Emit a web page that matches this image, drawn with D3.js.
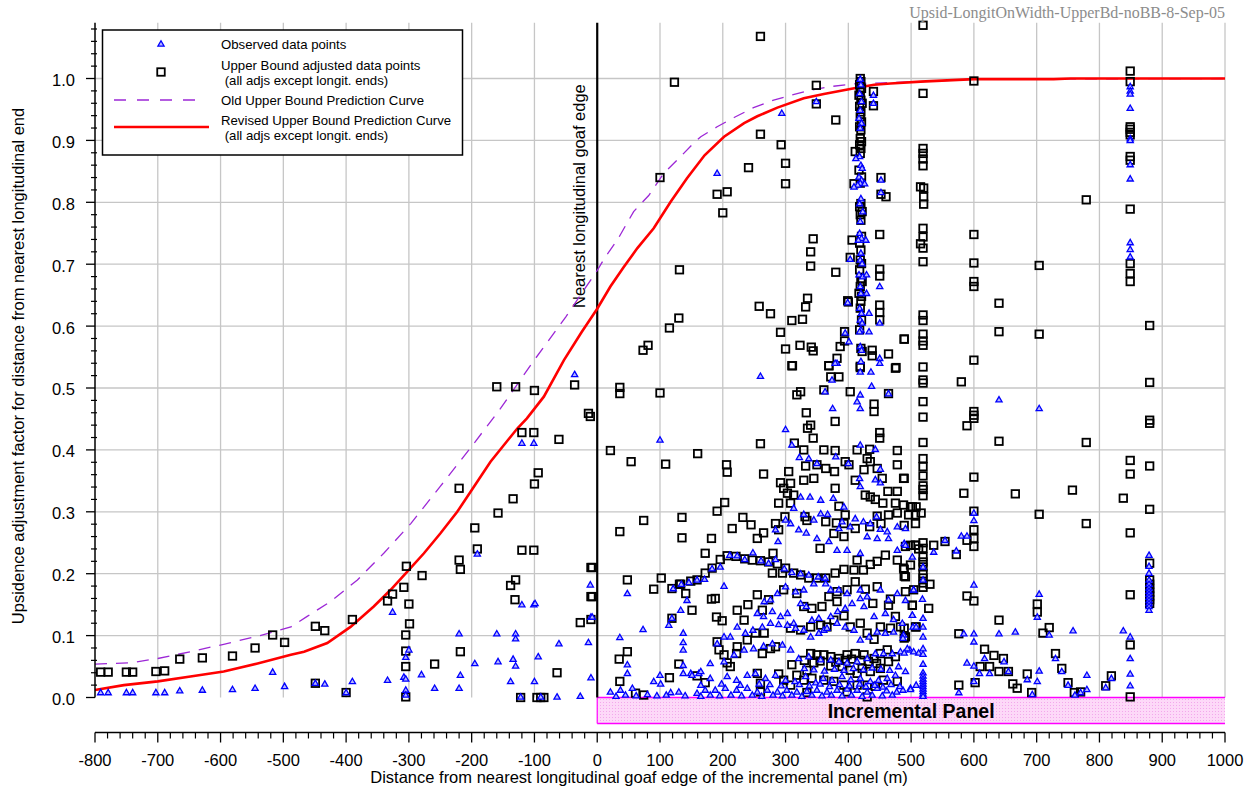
<!DOCTYPE html>
<html>
<head>
<meta charset="utf-8">
<script src="https://cdn.jsdelivr.net/npm/d3@7/dist/d3.min.js"></script>
<style>
  html, body { margin: 0; padding: 0; background: #ffffff; }
  svg { display: block; }
</style>
</head>
<body>
<svg id="chart" width="1258" height="791" font-family="'Liberation Sans', Arial, sans-serif"></svg>
<script>
// ---- axis ticks ----
const xMajorTicks = [-800,-700,-600,-500,-400,-300,-200,-100,0,100,200,300,400,500,600,700,800,900,1000];
const yMajorTicks = [0.0,0.1,0.2,0.3,0.4,0.5,0.6,0.7,0.8,0.9,1.0];
const xGridValues = [-700,-600,-500,-400,-300,-200,-100,100,200,300,400,500,600,700,800,900,1000];
const yGridValues = [0.1,0.2,0.3,0.4,0.5,0.6,0.7,0.8,0.9,1.0];

// ---- prediction curves ----
const revisedCurveX = [-800,-754,-700,-648,-595,-541,-488,-467,-430,-393,-356,-329,-300,-276,-250,-223,-202,-170,-127,-112,-85,-53,-25,0,21,42,64,90,117,143,171,202,234,255,287,329,361,403,441,467,515,600,727,754,1000];
const revisedCurveY = [0.012,0.020,0.026,0.034,0.042,0.055,0.069,0.074,0.088,0.114,0.147,0.174,0.206,0.233,0.265,0.300,0.332,0.381,0.435,0.451,0.486,0.545,0.590,0.628,0.664,0.695,0.726,0.758,0.801,0.839,0.876,0.906,0.928,0.939,0.953,0.968,0.975,0.983,0.990,0.992,0.995,0.999,0.999,1.0,1.0];
const oldCurveX = [-800,-743,-700,-648,-595,-541,-488,-462,-425,-382,-340,-297,-250,-202,-154,-104,-50,0,13,32,58,82,106,130,154,165,191,218,249,281,308,340,372,414,456,515,600,1000];
const oldCurveY = [0.054,0.056,0.063,0.074,0.086,0.099,0.114,0.131,0.155,0.190,0.233,0.281,0.341,0.403,0.467,0.540,0.615,0.690,0.712,0.739,0.785,0.811,0.847,0.871,0.896,0.906,0.922,0.937,0.953,0.965,0.973,0.981,0.987,0.992,0.993,0.995,0.999,1.0];

// ---- observed data points [distance m, factor] ----
const observedPoints = [
[-791,0.008],[-779,0.008],[-750,0.008],[-740,0.008],[-703,0.008],[-689,0.008],[-665,0.011],[-629,0.012],[-581,0.013],[-545,0.015],[-517,0.041],[-498,0.018],[-449,0.023],[-434,0.022],[-390,0.026],[-400,0.008],[-326,0.138],[-334,0.028],[-308,0.033],[-305,0.030],[-300,0.077],[-305,0.065],[-305,0.012],[-305,0.004],[-280,0.037],[-259,0.015],[-220,0.103],[-218,0.036],[-220,0.015],[-195,0.055],[-191,0.232],[-160,0.103],[-158,0.058],[-130,0.103],[-130,0.095],[-134,0.062],[-130,0.051],[-138,0.026],[-120,0.411],[-101,0.411],[-120,0.150],[-101,0.150],[-99,0.152],[-94,0.066],[-100,0.026],[-61,0.087],[-64,0.001],[-27,0.002],[-36,0.522],[-11,0.182],[-10,0.130],[-14,0.089],[-10,0.032],[-122,0.001],[-90,0.001],
[419,0.999],[420,0.990],[418,0.976],[421,0.963],[419,0.949],[417,0.936],[421,0.928],[419,0.920],[418,0.874],[420,0.860],[422,0.855],[417,0.841],[421,0.836],[419,0.831],[415,0.828],[420,0.806],[418,0.798],[423,0.785],[419,0.769],[418,0.750],[421,0.742],[416,0.739],[420,0.718],[419,0.707],[422,0.701],[417,0.683],[423,0.680],[419,0.664],[420,0.653],[418,0.629],[421,0.621],[419,0.610],[422,0.605],[420,0.594],[418,0.591],[419,0.567],[421,0.561],[420,0.543],
[440,0.973],[440,0.960],[452,0.836],[452,0.816],[426,0.830],[428,0.739],[429,0.683],[429,0.653],[433,0.621],[433,0.591],[450,0.664],[450,0.605],[450,0.548],[294,0.944],[191,0.847],[349,0.963],[412,0.871],[409,0.825],[403,0.708],[399,0.638],[395,0.589],[401,0.575],[382,0.540],[260,0.519],
[379,0.540],[419,0.526],[436,0.526],[450,0.540],[374,0.513],[437,0.503],[363,0.494],[419,0.489],[419,0.467],[375,0.467],[414,0.478],[464,0.491],[300,0.433],[310,0.408],[322,0.388],[337,0.386],[350,0.378],[380,0.389],[400,0.378],[419,0.408],[443,0.401],[451,0.369],[418,0.354],[419,0.341],[443,0.352],[451,0.347],[100,0.416],
[324,0.324],[339,0.324],[356,0.319],[376,0.322],[393,0.308],[367,0.296],[356,0.297],[313,0.306],[300,0.287],[308,0.281],[329,0.296],[345,0.287],[390,0.284],[385,0.273],[403,0.276],[411,0.289],[424,0.284],[435,0.281],[445,0.292],[451,0.272],[462,0.268],[478,0.276],[491,0.273],[284,0.271],[288,0.252],[321,0.271],[333,0.266],[350,0.257],[369,0.252],[382,0.238],[398,0.238],[419,0.233],[430,0.260],[446,0.257],[464,0.257],[478,0.238],[489,0.249],
[211,0.230],[223,0.229],[235,0.223],[248,0.234],[261,0.221],[273,0.217],[284,0.223],[298,0.208],[310,0.202],[324,0.200],[337,0.198],[352,0.195],[363,0.193],[196,0.211],[183,0.208],[171,0.191],[159,0.190],[146,0.186],[134,0.183],[121,0.176],[202,0.180],[143,0.157],[133,0.141],[119,0.128],[114,0.117],
[255,0.136],[265,0.131],[279,0.139],[292,0.131],[303,0.136],[313,0.120],[324,0.152],[333,0.147],[342,0.125],[353,0.128],[361,0.109],[372,0.131],[383,0.139],[395,0.144],[406,0.152],[398,0.168],[385,0.174],[372,0.174],[364,0.184],[345,0.184],[329,0.174],[316,0.171],[300,0.179],[287,0.168],[276,0.158],[266,0.155],[419,0.160],[425,0.147],[441,0.131],[459,0.136],[472,0.126],[486,0.120],[502,0.133],[419,0.174],[430,0.163],[451,0.174],[464,0.158],[478,0.168],[504,0.174],
[223,0.114],[202,0.098],[191,0.087],[212,0.098],[236,0.104],[248,0.109],[263,0.114],[276,0.120],[289,0.118],[303,0.117],[316,0.112],[329,0.109],[340,0.098],[353,0.104],[366,0.112],[382,0.120],[395,0.114],[409,0.109],[419,0.093],[433,0.098],[446,0.106],[459,0.104],[472,0.106],[488,0.101],[503,0.114],[73,0.110],[36,0.097],[48,0.168],[-8,0.130],[137,0.104],[137,0.089],[137,0.077],[137,0.052],[137,0.039],
[21,0.009],[37,0.012],[56,0.015],[90,0.026],[101,0.022],[117,0.008],[130,0.009],[159,0.007],[172,0.012],[188,0.012],[204,0.015],[222,0.012],[239,0.015],[255,0.009],[271,0.012],[287,0.009],[302,0.012],[318,0.009],[334,0.010],[350,0.012],[366,0.009],[382,0.012],[398,0.014],[414,0.012],[430,0.009],[446,0.015],[461,0.011],[477,0.009],[487,0.012],[499,0.015],
[30,0.002],[45,0.004],[62,0.003],[80,0.005],[95,0.003],[110,0.004],[140,0.003],[165,0.002],[180,0.004],[195,0.003],[213,0.004],[230,0.003],[247,0.004],[262,0.002],[280,0.004],[295,0.003],[310,0.004],[326,0.002],[342,0.004],[358,0.003],[373,0.004],[390,0.003],[405,0.004],[422,0.002],[438,0.004],[454,0.003],[470,0.004],
[149,0.039],[162,0.039],[180,0.031],[207,0.034],[222,0.028],[239,0.036],[252,0.039],[268,0.031],[284,0.036],[300,0.028],[315,0.026],[332,0.034],[348,0.024],[360,0.031],[374,0.028],[390,0.034],[404,0.029],[419,0.031],[435,0.026],[448,0.028],[462,0.031],[475,0.036],[491,0.042],
[165,0.020],[198,0.022],[228,0.020],[258,0.022],[275,0.021],[293,0.019],[322,0.021],[338,0.019],[355,0.022],[370,0.018],[386,0.021],[402,0.019],[418,0.022],[428,0.018],[442,0.020],[455,0.017],[468,0.021],[482,0.018],
[202,0.058],[218,0.069],[234,0.077],[249,0.079],[265,0.083],[279,0.087],[295,0.085],[308,0.077],[321,0.063],[337,0.066],[356,0.061],[372,0.061],[385,0.058],[398,0.056],[414,0.058],[430,0.063],[443,0.071],[456,0.071],[470,0.071],[483,0.074],[498,0.077],[512,0.072],[180,0.055],[165,0.042],[151,0.036],[48,0.053],[48,0.039],[100,0.036],
[330,0.047],[345,0.045],[362,0.043],[378,0.046],[393,0.044],[408,0.047],[424,0.045],[438,0.048],[452,0.046],[466,0.044],[480,0.050],
[640,0.481],[704,0.467],[600,0.298],[600,0.286],[580,0.261],[589,0.261],[572,0.237],[554,0.254],[536,0.235],[879,0.230],[879,0.212],[879,0.201],[879,0.190],[879,0.183],[879,0.177],[879,0.172],[879,0.167],[879,0.162],[879,0.157],[879,0.152],[879,0.147],[879,0.141],[600,0.182],[704,0.167],[701,0.130],[849,0.098],[849,0.063],[849,0.038],[849,0.019],[838,0.108],[758,0.108],[666,0.106],[640,0.103],[600,0.103],[600,0.090],[584,0.103],[589,0.056],[600,0.051],[600,0.026],[576,0.008],[617,0.063],[609,0.039],[625,0.039],[648,0.058],[655,0.042],[685,0.029],[701,0.026],[704,0.043],[720,0.101],[730,0.063],[740,0.042],[750,0.020],[780,0.036],[780,0.013],[819,0.031],[810,0.016],[761,0.004],[770,0.008],[693,0.005],[499,0.013],[508,0.020],
[519,0.040],[519,0.035],[519,0.030],[519,0.026],[519,0.022],[519,0.018],[519,0.014],[519,0.010],[519,0.006],[519,0.002],
[502,0.227],[491,0.246],[519,0.211],[519,0.190],[504,0.174],[491,0.157],[518,0.159],[502,0.133],[519,0.128],[508,0.114],[519,0.114],[519,0.098],[487,0.096],[519,0.079],[494,0.079],[504,0.074],[519,0.070],[519,0.054],[489,0.072],
[849,0.987],[849,0.980],[849,0.975],[849,0.952],[849,0.903],[849,0.900],[849,0.861],[849,0.838],[849,0.735],[849,0.724],[849,0.712]
];

// ---- upper bound adjusted data points [distance m, factor] ----
const upperBoundPoints = [
[-791,0.041],[-779,0.041],[-750,0.041],[-740,0.041],[-703,0.042],[-689,0.043],[-665,0.062],[-629,0.064],[-581,0.067],[-545,0.080],[-517,0.101],[-498,0.089],[-449,0.115],[-434,0.108],[-390,0.126],[-400,0.008],[-449,0.023],[-334,0.156],[-326,0.167],[-308,0.178],[-304,0.212],[-300,0.151],[-299,0.119],[-305,0.101],[-305,0.075],[-305,0.050],[-305,0.001],[-279,0.197],[-259,0.054],[-220,0.338],[-220,0.222],[-218,0.207],[-218,0.074],[-195,0.274],[-191,0.240],[-160,0.502],[-130,0.502],[-100,0.496],[-120,0.428],[-101,0.428],[-61,0.417],[-94,0.363],[-100,0.345],[-134,0.321],[-158,0.298],[-120,0.238],[-101,0.238],[-130,0.190],[-138,0.181],[-131,0.158],[-64,0.040],[-36,0.505],[-14,0.459],[-11,0.454],[-10,0.210],[-10,0.163],[-27,0.121],[-10,0.126],[-122,0.0],[-96,0.0],[-90,0.0],[-85,0.0],
[260,1.068],[123,0.994],[349,0.989],[349,0.959],[380,0.933],[260,0.910],[293,0.893],[300,0.863],[300,0.830],[241,0.856],[100,0.840],[191,0.813],[207,0.817],[200,0.783],[344,0.741],[340,0.720],[340,0.697],[380,0.687],[131,0.691],[335,0.645],[332,0.631],[258,0.632],[276,0.620],[310,0.609],[327,0.611],[292,0.590],[130,0.613],[115,0.597],[81,0.569],[73,0.561],[300,0.563],[323,0.569],[341,0.566],[344,0.560],[311,0.536],[369,0.536],[382,0.548],[394,0.591],[400,0.639],[387,0.567],[394,0.576],[440,0.979],[440,0.956],[452,0.840],[452,0.813],[460,0.809],[450,0.748],[450,0.692],[450,0.681],[450,0.634],[450,0.622],[450,0.610],[489,0.579],[438,0.561],[438,0.552],[464,0.555],[476,0.533],[409,0.830],[411,0.882],[403,0.711],[406,0.739],[399,0.641],
[419,1.000],[420,0.995],[418,0.990],[421,0.984],[419,0.979],[417,0.973],[420,0.965],[422,0.960],[418,0.955],[420,0.946],[419,0.938],[421,0.930],[418,0.922],[420,0.917],[419,0.903],[421,0.898],[418,0.893],[420,0.887],[419,0.879],[417,0.852],[421,0.841],[419,0.831],[420,0.798],[418,0.793],[422,0.785],[419,0.780],[420,0.771],[421,0.745],[418,0.734],[420,0.723],[419,0.707],[421,0.701],[418,0.691],[420,0.677],[422,0.672],[419,0.664],[417,0.653],[421,0.648],[420,0.640],[419,0.629],[421,0.610],[418,0.594],[420,0.564],[422,0.559],[419,0.535],
[310,0.536],[369,0.536],[385,0.518],[372,0.518],[419,0.533],[475,0.532],[324,0.494],[318,0.489],[361,0.497],[403,0.494],[441,0.474],[441,0.462],[464,0.491],[36,0.501],[36,0.491],[100,0.492],
[333,0.460],[379,0.446],[335,0.435],[340,0.440],[344,0.419],[314,0.411],[329,0.400],[361,0.400],[379,0.399],[414,0.400],[434,0.401],[450,0.428],[450,0.419],[478,0.399],[260,0.410],[21,0.399],[54,0.381],[109,0.377],[160,0.394],[206,0.376],[207,0.364],[265,0.361],[305,0.365],[332,0.374],[350,0.376],[364,0.370],[378,0.365],[395,0.381],[401,0.376],[430,0.386],[435,0.381],[446,0.370],[454,0.354],[478,0.376],[488,0.354],[425,0.368],
[292,0.347],[297,0.338],[308,0.346],[303,0.330],[313,0.327],[289,0.314],[308,0.314],[329,0.351],[345,0.354],[379,0.338],[411,0.351],[427,0.327],[435,0.324],[443,0.320],[455,0.314],[463,0.333],[478,0.333],[475,0.314],[488,0.311],[502,0.308],[507,0.295],[464,0.295],[446,0.293],[385,0.309],[395,0.295],[393,0.281],[381,0.282],[364,0.284],[334,0.286],[331,0.292],[191,0.301],[203,0.315],[232,0.291],[245,0.279],[215,0.273],[284,0.281],[289,0.271],[299,0.292],[135,0.291],[135,0.258],[74,0.286],[36,0.268],[172,0.233],[182,0.257],[265,0.266],[255,0.257],[280,0.233],[355,0.241],[377,0.265],[393,0.260],[411,0.273],[434,0.276],[452,0.281],[478,0.298],[491,0.244],[507,0.246],[512,0.240],
[196,0.223],[207,0.229],[221,0.228],[235,0.224],[247,0.222],[260,0.221],[273,0.219],[287,0.216],[300,0.209],[279,0.201],[295,0.201],[313,0.201],[324,0.198],[337,0.193],[350,0.193],[364,0.193],[379,0.201],[393,0.207],[409,0.206],[414,0.222],[424,0.206],[435,0.215],[446,0.220],[459,0.230],[478,0.222],[488,0.209],[491,0.195],[499,0.214],[183,0.209],[172,0.201],[159,0.190],[149,0.188],[133,0.183],[119,0.176],[102,0.193],[90,0.175],[48,0.190],[-8,0.210],[-8,0.163],
[255,0.166],[273,0.158],[263,0.141],[188,0.160],[182,0.159],[223,0.141],[240,0.150],[234,0.125],[190,0.130],[199,0.124],[141,0.168],[151,0.141],[131,0.183],[119,0.128],[297,0.174],[318,0.168],[329,0.147],[342,0.144],[358,0.147],[382,0.155],[369,0.163],[382,0.171],[398,0.174],[411,0.187],[427,0.175],[446,0.179],[439,0.152],[464,0.149],[467,0.159],[475,0.131],[491,0.171],[502,0.149],[393,0.132],[377,0.125],[356,0.117],[340,0.114],[324,0.109],[308,0.112],[284,0.082],[366,0.114],[403,0.114],[419,0.120],[430,0.104],[451,0.114],[467,0.112],[483,0.114],[491,0.098],[507,0.114],[441,0.094],[252,0.104],[266,0.104],[239,0.093],[223,0.082],
[191,0.090],[194,0.077],[202,0.069],[207,0.056],[276,0.079],[263,0.071],[289,0.038],[260,0.023],[260,0.009],[310,0.053],[318,0.036],[329,0.028],[340,0.071],[350,0.069],[361,0.069],[372,0.066],[385,0.063],[398,0.069],[411,0.071],[425,0.069],[441,0.063],[451,0.071],[462,0.077],[372,0.051],[390,0.050],[403,0.044],[414,0.039],[422,0.047],[435,0.042],[451,0.047],[464,0.058],[475,0.066],[334,0.044],[342,0.031],[361,0.028],[377,0.026],[393,0.020],[414,0.020],[430,0.020],[443,0.018],[456,0.028],[478,0.026],[398,0.009],[430,0.001],[334,0.008],[159,0.035],[172,0.024],[115,0.032],[130,0.054],[35,0.062],[48,0.074],[36,0.026],[61,0.007],[74,0.004],[308,0.020],[297,0.028],[255,0.039],[212,0.050],[222,0.071],[355,0.059],[345,0.056],[330,0.060],[380,0.057],[395,0.060],[405,0.062],[420,0.060],[432,0.058],[445,0.055],
[519,1.086],[600,0.996],[519,0.976],[519,0.887],[519,0.879],[519,0.870],[519,0.859],[515,0.825],[520,0.823],[520,0.809],[520,0.797],[519,0.758],[519,0.744],[515,0.733],[519,0.726],[519,0.704],[519,0.618],[519,0.609],[519,0.587],[519,0.576],[519,0.569],[519,0.534],[489,0.579],[600,0.748],[600,0.702],[600,0.672],[600,0.664],[600,0.545],[640,0.637],[640,0.591],[704,0.698],[704,0.587],[779,0.804],[849,1.012],[849,0.995],[849,0.922],[849,0.918],[849,0.913],[849,0.909],[849,0.874],[849,0.868],[849,0.789],[849,0.701],[849,0.685],[849,0.672],[880,0.601],
[519,0.513],[519,0.508],[519,0.478],[519,0.453],[519,0.412],[519,0.386],[519,0.373],[519,0.358],[519,0.342],[519,0.336],[519,0.326],[580,0.510],[600,0.462],[600,0.456],[600,0.451],[589,0.439],[640,0.414],[600,0.356],[584,0.330],[666,0.329],[600,0.301],[600,0.271],[600,0.257],[600,0.244],[589,0.254],[704,0.296],[779,0.412],[779,0.281],[757,0.335],[838,0.322],[849,0.383],[849,0.361],[849,0.266],[849,0.166],[849,0.085],[849,0.001],[880,0.509],[880,0.448],[880,0.443],[880,0.374],[880,0.304],[880,0.217],[880,0.190],[880,0.183],[880,0.176],[880,0.170],[880,0.164],[880,0.158],[880,0.152],
[589,0.164],[600,0.156],[640,0.125],[576,0.103],[701,0.151],[701,0.138],[720,0.113],[710,0.104],[617,0.078],[632,0.068],[647,0.063],[610,0.050],[625,0.050],[640,0.042],[655,0.042],[685,0.038],[730,0.071],[740,0.047],[750,0.024],[819,0.035],[810,0.019],[576,0.020],[602,0.024],[662,0.022],[669,0.015],[692,0.008],[760,0.008],[770,0.009],
[519,0.250],[519,0.241],[519,0.227],[519,0.219],[519,0.211],[519,0.200],[519,0.193],[519,0.185],[519,0.178],[530,0.183],[528,0.144],[508,0.114],[489,0.112],[489,0.096],[504,0.174],[502,0.149],[536,0.246],[554,0.252],[572,0.231],[516,0.298],[508,0.308],[499,0.308],[496,0.295],[507,0.281],[489,0.278],[489,0.354],[499,0.246],[507,0.246],[489,0.196],[489,0.207]
];

// ---- layout ----
const svg = d3.select("#chart");
const xScale = d3.scaleLinear().domain([-800, 1000]).range([95, 1225]);
const yScale = d3.scaleLinear().domain([0, 1.09]).range([697.5, 22.8]);
const plotTop = yScale(1.09), plotBottom = yScale(0);
const xAxisY = plotBottom + 35;

// pink dotted fill for the panel band
const defs = svg.append("defs");
const pat = defs.append("pattern").attr("id", "panelDots")
  .attr("width", 3).attr("height", 3).attr("patternUnits", "userSpaceOnUse");
pat.append("rect").attr("width", 3).attr("height", 3).attr("fill", "#fdd9f8");
pat.append("rect").attr("width", 1).attr("height", 1).attr("fill", "#f3a8ec");

// gridlines
svg.append("g").selectAll("line").data(xGridValues).join("line")
  .attr("x1", d => xScale(d)).attr("x2", d => xScale(d))
  .attr("y1", plotTop).attr("y2", plotBottom)
  .attr("stroke", "#c6c6c6").attr("stroke-width", 1.3);
svg.append("g").selectAll("line").data(yGridValues).join("line")
  .attr("x1", xScale(-800)).attr("x2", xScale(1000))
  .attr("y1", d => yScale(d)).attr("y2", d => yScale(d))
  .attr("stroke", "#c6c6c6").attr("stroke-width", 1.3);

// incremental panel band
svg.append("rect")
  .attr("x", xScale(0)).attr("y", yScale(0))
  .attr("width", xScale(1000) - xScale(0)).attr("height", yScale(-0.042) - yScale(0))
  .attr("fill", "url(#panelDots)");
svg.append("g").selectAll("line").data([0, -0.042]).join("line")
  .attr("x1", xScale(0)).attr("x2", xScale(1000))
  .attr("y1", d => yScale(d)).attr("y2", d => yScale(d))
  .attr("stroke", "#ff00ff").attr("stroke-width", 1.6);
svg.append("line")
  .attr("x1", xScale(0)).attr("x2", xScale(0))
  .attr("y1", yScale(0)).attr("y2", yScale(-0.042))
  .attr("stroke", "#ff00ff").attr("stroke-width", 1.2);
svg.append("text")
  .attr("x", xScale(500)).attr("y", yScale(-0.021)).attr("dy", "0.36em")
  .attr("text-anchor", "middle").attr("font-weight", "bold").attr("font-size", 19.5)
  .attr("fill", "#000").text("Incremental Panel");

// goaf edge line + label
svg.append("line")
  .attr("x1", xScale(0)).attr("x2", xScale(0))
  .attr("y1", plotTop).attr("y2", plotBottom)
  .attr("stroke", "#000").attr("stroke-width", 2.2);
svg.append("text")
  .attr("transform", `translate(${xScale(0) - 12},${yScale(0.81)}) rotate(-90)`)
  .attr("text-anchor", "middle").attr("font-size", 16.5).attr("fill", "#000")
  .text("Nearest longitudinal goaf edge");

// prediction curves
const line = d3.line().x(d => xScale(d[0])).y(d => yScale(d[1]));
svg.append("path")
  .datum(oldCurveX.map((x, i) => [x, oldCurveY[i]]))
  .attr("d", line).attr("fill", "none")
  .attr("stroke", "#9c27d6").attr("stroke-width", 1.3).attr("stroke-dasharray", "12,9");
svg.append("path")
  .datum(revisedCurveX.map((x, i) => [x, revisedCurveY[i]]))
  .attr("d", line).attr("fill", "none")
  .attr("stroke", "#ff0000").attr("stroke-width", 2.6);

// markers
const sq = 7.5;
svg.append("g").selectAll("rect").data(upperBoundPoints).join("rect")
  .attr("x", d => xScale(d[0]) - sq / 2).attr("y", d => yScale(d[1]) - sq / 2)
  .attr("width", sq).attr("height", sq)
  .attr("fill", "none").attr("stroke", "#000").attr("stroke-width", 1.8);
const tri = "M0,-3.2L3.1,2.2L-3.1,2.2Z";
svg.append("g").selectAll("path").data(observedPoints).join("path")
  .attr("d", tri)
  .attr("transform", d => `translate(${xScale(d[0])},${yScale(d[1])})`)
  .attr("fill", "#b8b8ff").attr("stroke", "#0000ff").attr("stroke-width", 1.3);

// y axis
const yAxisG = svg.append("g");
yAxisG.append("line").attr("x1", 95).attr("x2", 95).attr("y1", plotTop).attr("y2", plotBottom)
  .attr("stroke", "#000").attr("stroke-width", 1.5);
const yMinor = d3.range(0, 1.09, 0.02).filter(v => Math.abs(v * 10 - Math.round(v * 10)) > 1e-6);
yAxisG.selectAll(".ymin").data(yMinor).join("line")
  .attr("x1", 91).attr("x2", 97).attr("y1", d => yScale(d)).attr("y2", d => yScale(d))
  .attr("stroke", "#000").attr("stroke-width", 1.2);
yAxisG.selectAll(".ymaj").data(yMajorTicks).join("line")
  .attr("x1", 86).attr("x2", 95).attr("y1", d => yScale(d)).attr("y2", d => yScale(d))
  .attr("stroke", "#000").attr("stroke-width", 1.3);
yAxisG.selectAll("text").data(yMajorTicks).join("text")
  .attr("x", 75).attr("y", d => yScale(d)).attr("dy", "0.45em")
  .attr("text-anchor", "end").attr("font-size", 16.5).attr("fill", "#000")
  .text(d => d3.format(".1f")(d));

// x axis (offset below the panel band)
const xAxisG = svg.append("g");
xAxisG.append("line").attr("x1", xScale(-800)).attr("x2", xScale(1000))
  .attr("y1", xAxisY).attr("y2", xAxisY).attr("stroke", "#000").attr("stroke-width", 1.5);
const xMinor = d3.range(-800, 1001, 20).filter(v => v % 100 !== 0);
xAxisG.selectAll(".xmin").data(xMinor).join("line")
  .attr("x1", d => xScale(d)).attr("x2", d => xScale(d))
  .attr("y1", xAxisY).attr("y2", xAxisY + 6)
  .attr("stroke", "#000").attr("stroke-width", 1.2);
xAxisG.selectAll(".xmaj").data(xMajorTicks).join("line")
  .attr("x1", d => xScale(d)).attr("x2", d => xScale(d))
  .attr("y1", xAxisY).attr("y2", xAxisY + 10)
  .attr("stroke", "#000").attr("stroke-width", 1.3);
xAxisG.selectAll("text").data(xMajorTicks).join("text")
  .attr("x", d => xScale(d)).attr("y", xAxisY + 33)
  .attr("text-anchor", "middle").attr("font-size", 16.5).attr("fill", "#000")
  .text(d => d);

// axis titles
svg.append("text").attr("x", 639).attr("y", 783)
  .attr("text-anchor", "middle").attr("font-size", 16.5).attr("fill", "#000")
  .text("Distance from nearest longitudinal goaf edge of the incremental panel (m)");
svg.append("text")
  .attr("transform", `translate(24,${366}) rotate(-90)`)
  .attr("text-anchor", "middle").attr("font-size", 16.5).attr("fill", "#000")
  .text("Upsidence adjustment factor for distance from nearest longitudinal end");

// file tag
svg.append("text").attr("x", 1225).attr("y", 18)
  .attr("text-anchor", "end").attr("font-size", 16)
  .attr("font-family", "'Liberation Serif', 'Times New Roman', serif")
  .attr("fill", "#8c8c8c")
  .text("Upsid-LongitOnWidth-UpperBd-noBB-8-Sep-05");

// legend
const lg = svg.append("g");
lg.append("rect").attr("x", 102.5).attr("y", 30).attr("width", 360).attr("height", 125)
  .attr("fill", "#fff").attr("stroke", "#000").attr("stroke-width", 1.5);
lg.append("path").attr("d", tri).attr("transform", "translate(161,44)")
  .attr("fill", "#b8b8ff").attr("stroke", "#0000ff").attr("stroke-width", 1.3);
lg.append("rect").attr("x", 161 - sq / 2).attr("y", 72 - sq / 2).attr("width", sq).attr("height", sq)
  .attr("fill", "none").attr("stroke", "#000").attr("stroke-width", 1.8);
lg.append("line").attr("x1", 114).attr("x2", 199).attr("y1", 100).attr("y2", 100)
  .attr("stroke", "#9c27d6").attr("stroke-width", 1.3).attr("stroke-dasharray", "12,11");
lg.append("line").attr("x1", 114).attr("x2", 209).attr("y1", 127).attr("y2", 127)
  .attr("stroke", "#ff0000").attr("stroke-width", 2.6);
const legendText = [
  ["Observed data points", 221, 48.5],
  ["Upper Bound adjusted data points", 221, 69.5],
  ["\u00a0(all adjs except longit. ends)", 221, 85],
  ["Old Upper Bound Prediction Curve", 221, 105],
  ["Revised Upper Bound Prediction Curve", 221, 124.5],
  ["\u00a0(all adjs except longit. ends)", 221, 140]
];
lg.selectAll("text").data(legendText).join("text")
  .attr("x", d => d[1]).attr("y", d => d[2])
  .attr("font-size", 13.2).attr("fill", "#000")
  .text(d => d[0]);
</script>
</body>
</html>
